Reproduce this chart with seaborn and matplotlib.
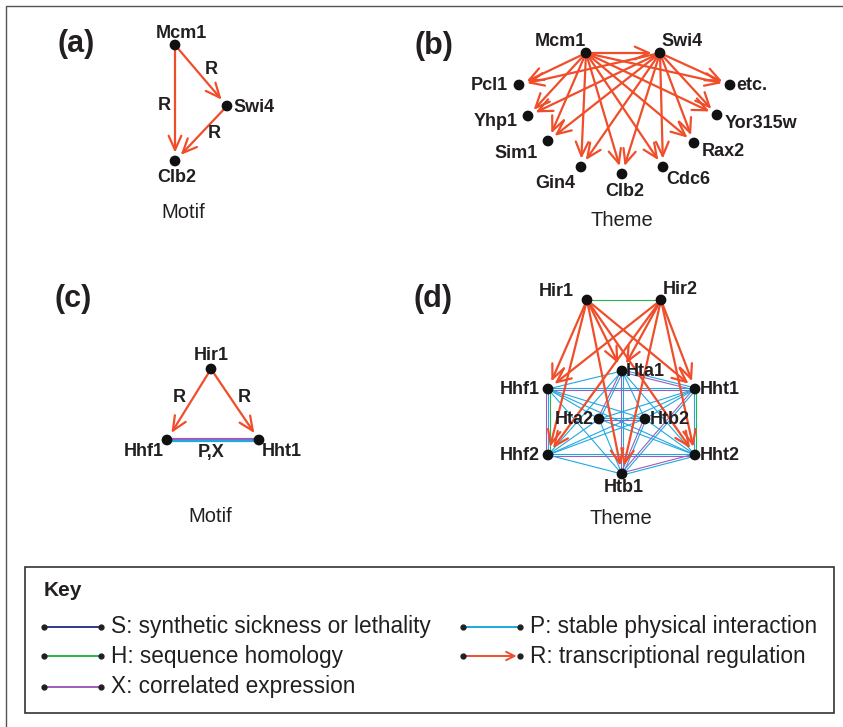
import numpy as np
import pandas as pd
import matplotlib
matplotlib.use("Agg")
import matplotlib.pyplot as plt
import seaborn as sns

# -----------------------------------
# Data: nodes (pixel layout) and edges
# -----------------------------------

RED = "#f04e2a"
BLUE = "#1ea9e1"
GREEN = "#2db34a"
PURPLE = "#a05cb8"
NAVY = "#2b3a8c"

# panel (a) motif
a_nodes = ["Mcm1", "Swi4", "Clb2"]
a_x = [175, 227, 175]
a_y = [45, 106, 161]
a_regulation = [("Mcm1", "Swi4"), ("Mcm1", "Clb2"), ("Swi4", "Clb2")]

# panel (b) theme
b_regulators = ["Mcm1", "Swi4"]
b_reg_x = [586, 660]
b_reg_y = [53, 53]
b_targets = ["Pcl1", "Yhp1", "Sim1", "Gin4", "Clb2", "Cdc6", "Rax2", "Yor315w", "etc."]
b_tgt_x = [519, 528, 548, 581, 622, 663, 694, 717, 730]
b_tgt_y = [85, 116, 141, 167, 174, 167, 143, 115, 85]

# panel (c) motif
c_nodes = ["Hir1", "Hhf1", "Hht1"]
c_x = [211, 167, 259]
c_y = [369, 440, 440]
c_regulation = [("Hir1", "Hhf1"), ("Hir1", "Hht1")]
c_links = [("Hhf1", "Hht1", "X"), ("Hhf1", "Hht1", "P")]

# panel (d) theme
d_nodes = ["Hir1", "Hir2", "Hta1", "Hhf1", "Hht1", "Hta2", "Htb2", "Hhf2", "Hht2", "Htb1"]
d_x = [587, 661, 622, 548, 695, 599, 645, 548, 695, 622]
d_y = [300, 300, 371, 389, 389, 419, 419, 455, 455, 474]
histones = ["Hta1", "Hhf1", "Hht1", "Hta2", "Htb2", "Hhf2", "Hht2", "Htb1"]
d_reg_targets = ["Hhf1", "Hhf2", "Hta1", "Htb1", "Hht1", "Hht2"]
d_homology = [("Hir1", "Hir2"), ("Hhf1", "Hhf2"), ("Hht1", "Hht2")]
d_coexpr = [("Hhf1", "Hht1"), ("Hhf2", "Hht2"), ("Hta1", "Htb1"), ("Hta1", "Hht1"),
            ("Hta1", "Hta2"), ("Hta2", "Htb2"), ("Htb1", "Hht1"), ("Htb1", "Hht2"),
            ("Htb1", "Htb2"), ("Hhf1", "Hhf2")]

key_labels = ["S: synthetic sickness or lethality", "H: sequence homology",
              "X: correlated expression", "P: stable physical interaction",
              "R: transcriptional regulation"]
key_colors = [NAVY, GREEN, PURPLE, BLUE, RED]

KIND_COLOR = {"P": BLUE, "H": GREEN, "X": PURPLE, "S": NAVY}

# -----------------------------------
# Figure setup
# -----------------------------------

sns.set_theme(style="white")
plt.rcParams["font.family"] = ["Liberation Sans", "DejaVu Sans"]

fig = plt.figure(figsize=(8.43, 7.27), dpi=100)
ax = fig.add_axes([0, 0, 1, 1])


def arrow(p, q, lw=1.6):
    ax.annotate("", xy=q, xytext=p,
                arrowprops=dict(arrowstyle="->,head_length=0.85,head_width=0.38",
                                color=RED, lw=lw, shrinkA=3, shrinkB=6),
                zorder=3)


def links(pos, edges, lw=0.9, gap=2.2):
    groups = {}
    for a, b, kind in edges:
        groups.setdefault((a, b), []).append(kind)
    for (a, b), kinds in groups.items():
        p = np.array(pos[a], float)
        q = np.array(pos[b], float)
        d = q - p
        perp = np.array([-d[1], d[0]]) / np.hypot(*d)
        n = len(kinds)
        for i, kind in enumerate(kinds):
            off = perp * (i - (n - 1) / 2) * gap
            ax.plot([p[0] + off[0], q[0] + off[0]], [p[1] + off[1], q[1] + off[1]],
                    color=KIND_COLOR[kind], lw=lw, zorder=2, solid_capstyle="butt")


def nodes(names, xs, ys):
    df = pd.DataFrame({"name": names, "x": xs, "y": ys})
    sns.scatterplot(data=df, x="x", y="y", color="#111111", s=60,
                    edgecolor="none", legend=False, ax=ax, zorder=5)
    return {n: (x, y) for n, x, y in zip(names, xs, ys)}


def label(x, y, s, ha="center", size=13, weight="bold"):
    ax.text(x, y, s, ha=ha, va="center", fontsize=size, fontweight=weight,
            color="#231f20", zorder=6)


# outer border
ax.plot([6, 6, 850], [740, 6, 6], color="#555555", lw=1.0)

# -----------------------------------
# Panel (a)
# -----------------------------------

pa = nodes(a_nodes, a_x, a_y)
for s, t in a_regulation:
    arrow(pa[s], pa[t])
label(76, 44, "(a)", size=22)
label(181, 33, "Mcm1")
label(233, 107, "Swi4", ha="left")
label(177, 177, "Clb2")
label(211, 70, "R")
label(164, 106, "R")
label(214, 134, "R")
label(183, 213, "Motif", size=14.5, weight="normal")

# -----------------------------------
# Panel (b)
# -----------------------------------

pb = nodes(b_regulators + b_targets, b_reg_x + b_tgt_x, b_reg_y + b_tgt_y)
arrow(pb["Mcm1"], pb["Swi4"])
for r in b_regulators:
    for t in b_targets:
        arrow(pb[r], pb[t])
label(434, 46, "(b)", size=22)
label(560, 42, "Mcm1")
label(682, 42, "Swi4")
b_label_pos = {"Pcl1": (508, 85, "right"), "Yhp1": (518, 121, "right"),
               "Sim1": (538, 153, "right"), "Gin4": (555, 183, "center"),
               "Clb2": (625, 191, "center"), "Cdc6": (688, 180, "center"),
               "Rax2": (723, 152, "center"), "Yor315w": (761, 123, "center"),
               "etc.": (736, 85, "left")}
for t in b_targets:
    x, y, ha = b_label_pos[t]
    label(x, y, t, ha=ha)
label(622, 220, "Theme", size=14.5, weight="normal")

# -----------------------------------
# Panel (c)
# -----------------------------------

pc = nodes(c_nodes, c_x, c_y)
links(pc, c_links, lw=1.6, gap=2.6)
for s, t in c_regulation:
    arrow(pc[s], pc[t])
label(73, 299, "(c)", size=22)
label(211, 355, "Hir1")
label(144, 452, "Hhf1")
label(282, 452, "Hht1")
label(179, 397, "R")
label(244, 397, "R")
label(211, 453, "P,X")
label(210, 516, "Motif", size=14.5, weight="normal")

# -----------------------------------
# Panel (d)
# -----------------------------------

pd_ = nodes(d_nodes, d_x, d_y)
edges_d = [(a, b, "H") for a, b in d_homology]
coexpr = {frozenset(e) for e in d_coexpr}
for i, a in enumerate(histones):
    for b in histones[i + 1:]:
        edges_d.append((a, b, "P"))
        if frozenset((a, b)) in coexpr:
            edges_d.append((a, b, "X"))
links(pd_, edges_d, lw=0.8)
for r in ["Hir1", "Hir2"]:
    for t in d_reg_targets:
        arrow(pd_[r], pd_[t])
label(433, 299, "(d)", size=22)
d_label_pos = {"Hir1": (556, 291, "center"), "Hir2": (680, 290, "center"),
               "Hta1": (626, 372, "left"), "Hhf1": (540, 389, "right"),
               "Hht1": (700, 389, "left"), "Hta2": (594, 419, "right"),
               "Htb2": (650, 419, "left"), "Hhf2": (540, 455, "right"),
               "Hht2": (700, 455, "left"), "Htb1": (624, 488, "center")}
for n in d_nodes:
    x, y, ha = d_label_pos[n]
    label(x, y, n, ha=ha)
label(621, 518, "Theme", size=14.5, weight="normal")

# -----------------------------------
# Key
# -----------------------------------

ax.add_patch(plt.Rectangle((25, 567), 809, 146, fill=False, ec="#333333", lw=1.2))
label(44, 591, "Key", ha="left", size=15)
key_rows = [(44, 627), (44, 656), (44, 687), (463, 627), (463, 656)]
for (x0, y0), text, col in zip(key_rows, key_labels, key_colors):
    if col == RED:
        ax.annotate("", xy=(x0 + 55, y0), xytext=(x0, y0),
                    arrowprops=dict(arrowstyle="->,head_length=0.5,head_width=0.25",
                                    color=RED, lw=1.4, shrinkA=0, shrinkB=1))
    else:
        ax.plot([x0, x0 + 57], [y0, y0], color=col, lw=1.4)
    ax.plot([x0, x0 + 57], [y0, y0], "o", color="#231f20", ms=3.5, zorder=5)
    label(x0 + 67, y0, text, ha="left", size=16.3, weight="normal")

ax.set_xlim(0, 843)
ax.set_ylim(727, 0)
ax.axis("off")

fig.savefig("out.png", dpi=100)
